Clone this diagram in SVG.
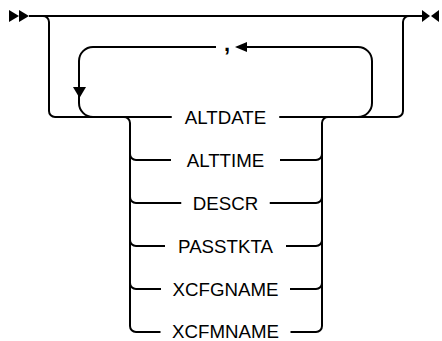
<svg xmlns="http://www.w3.org/2000/svg" width="442" height="341" viewBox="0 0 442 341">
  <style>
    .ln { fill: none; stroke: #000; stroke-width: 2; }
    .ah { fill: #000; stroke: none; }
    .kw { font-family: "Liberation Sans", Arial, sans-serif; font-size: 18.7px; fill: #000; text-anchor: middle; }
    .sep { font-family: "Liberation Sans", Arial, sans-serif; font-size: 22px; font-weight: bold; fill: #000; text-anchor: middle; }
  </style>
  <rect width="442" height="341" fill="#fff"/>
  <g id="connectors">
    <path class="ln" d="M29,16 H422"/>
    <path class="ln" d="M43,16 A6,6 0 0 1 49,22 V111 A6,6 0 0 0 55,117 H171.75"/>
    <path class="ln" d="M216,47 H93 A14,14 0 0 0 79,61 V103 A14,14 0 0 0 93,117"/>
    <path class="ln" d="M247,47 H358 A14,14 0 0 1 372,61 V103 A14,14 0 0 1 358,117"/>
    <path class="ln" d="M279.25,117 H397 A6,6 0 0 0 403,111 V22 A6,6 0 0 1 409,16"/>
    <path class="ln" d="M124,117 A6,6 0 0 1 130,123 V326 A6,6 0 0 0 136,332 H160.5"/>
    <path class="ln" d="M130,154 A6,6 0 0 0 136,160 H171"/>
    <path class="ln" d="M130,197 A6,6 0 0 0 136,203 H181.25"/>
    <path class="ln" d="M130,240 A6,6 0 0 0 136,246 H165"/>
    <path class="ln" d="M130,283 A6,6 0 0 0 136,289 H161"/>
    <path class="ln" d="M290.5,332 H316 A6,6 0 0 0 322,326 V123 A6,6 0 0 1 328,117"/>
    <path class="ln" d="M280,160 H316 A6,6 0 0 0 322,154"/>
    <path class="ln" d="M269.75,203 H316 A6,6 0 0 0 322,197"/>
    <path class="ln" d="M286,246 H316 A6,6 0 0 0 322,240"/>
    <path class="ln" d="M290,289 H316 A6,6 0 0 0 322,283"/>
    <polygon class="ah" points="73,87 86,87 79.5,98"/>
    <polygon class="ah" points="235,47 247,42 247,52"/>
  </g>
  <g id="start">
    <polygon class="ah" points="9,10 19,16 9,22"/>
    <polygon class="ah" points="19,10 29,16 19,22"/>
  </g>
  <g id="end">
    <polygon class="ah" points="422,10 430,16 422,22"/>
    <polygon class="ah" points="439,10 431,16 439,22"/>
  </g>
  <g id="sep"><text class="sep" x="227" y="51">,</text></g>
  <g id="altdate"><text class="kw" x="225.5" y="123.5">ALTDATE</text></g>
  <g id="alttime"><text class="kw" x="225.5" y="166.5">ALTTIME</text></g>
  <g id="descr"><text class="kw" x="225.5" y="209.5">DESCR</text></g>
  <g id="passtkta"><text class="kw" x="225.5" y="252.5">PASSTKTA</text></g>
  <g id="xcfgname"><text class="kw" x="225.5" y="295.5">XCFGNAME</text></g>
  <g id="xcfmname"><text class="kw" x="225.5" y="338">XCFMNAME</text></g>
</svg>
